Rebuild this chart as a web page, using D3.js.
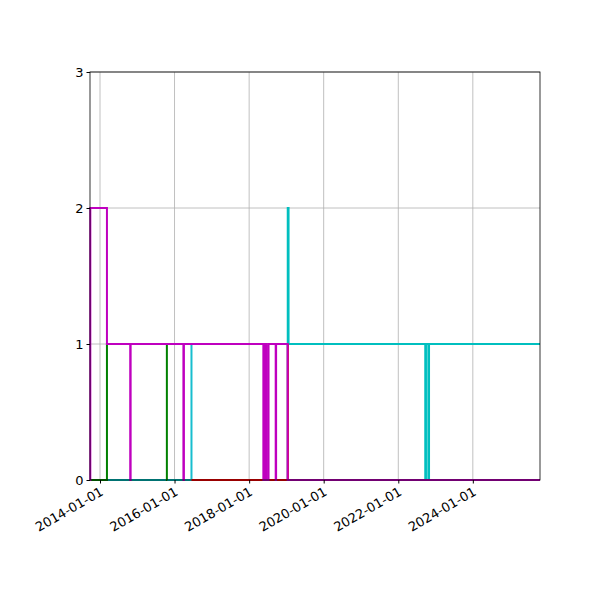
<!DOCTYPE html>
<html>
<head>
<meta charset="utf-8">
<script src="https://cdn.jsdelivr.net/npm/d3@7"></script>
<style>
body { margin: 0; background: #fff; }
text { font-family: "DejaVu Sans", sans-serif; }
</style>
</head>
<body>
<div id="chart"></div>
<script>
// step series: [date, value], drawn step-after
var cyanSeries = [["2013-09-25",0],["2019-01-14",2],["2019-01-22",1],["2022-09-22",0],["2022-09-29",1],["2022-10-22",0],["2022-10-29",1],["2025-10-20",1]];
var blueSeries = [["2014-03-12",1],["2016-06-15",0],["2016-06-18",0]];
var greenSeries = [["2013-09-25",0],["2014-03-10",1],["2015-10-18",0],["2015-10-22",0]];
var redSeries = [["2016-06-15",0],["2019-01-15",1],["2019-01-20",1]];
var magentaSeries = [["2013-09-25",0],["2013-09-28",2],["2014-03-10",1],["2014-10-24",0],["2014-10-28",1],
  ["2016-03-28",0],["2016-04-02",1],["2018-05-20",0],["2018-05-24",1],["2018-06-05",0],["2018-06-09",1],
  ["2018-06-20",0],["2018-07-10",1],["2018-09-18",0],["2018-09-22",1],["2019-01-13",0],["2025-10-20",0]];

var seriesList = [
  { data: cyanSeries, color: "#00bfbf" },
  { data: blueSeries, color: "#17becf" },
  { data: greenSeries, color: "#008000" },
  { data: redSeries, color: "#ff0000" },
  { data: magentaSeries, color: "#bf00bf" }
];
var yTicks = [0, 1, 2, 3];
var xTicks = ["2014-01-01","2016-01-01","2018-01-01","2020-01-01","2022-01-01","2024-01-01"];

var parse = d3.timeParse("%Y-%m-%d");
var margin = { top: 72, right: 60, bottom: 120, left: 90 };
var width = 600 - margin.left - margin.right,
    height = 600 - margin.top - margin.bottom;

var svg = d3.select("#chart").append("svg")
    .attr("width", 600).attr("height", 600)
  .append("g")
    .attr("transform", "translate(" + margin.left + "," + margin.top + ")");

var x = d3.scaleTime().domain([parse("2013-09-25"), parse("2025-10-20")]).range([0, width]);
var y = d3.scaleLinear().domain([0, 3]).range([height, 0]);

// grid
svg.selectAll(".vgrid").data(xTicks).enter().append("line")
  .attr("x1", function(d){ return x(parse(d)); }).attr("x2", function(d){ return x(parse(d)); })
  .attr("y1", 0).attr("y2", height).attr("stroke", "#b0b0b0").attr("stroke-width", 0.8);
svg.selectAll(".hgrid").data(yTicks).enter().append("line")
  .attr("y1", function(d){ return y(d); }).attr("y2", function(d){ return y(d); })
  .attr("x1", 0).attr("x2", width).attr("stroke", "#b0b0b0").attr("stroke-width", 0.8);

var line = d3.line()
  .x(function(d){ return x(parse(d[0])); })
  .y(function(d){ return y(d[1]); })
  .curve(d3.curveStepAfter);

seriesList.forEach(function(s){
  svg.append("path").datum(s.data)
    .attr("d", line).attr("fill", "none")
    .attr("stroke", s.color).attr("stroke-width", 2);
});

// frame
svg.append("rect").attr("width", width).attr("height", height)
  .attr("fill", "none").attr("stroke", "#000").attr("stroke-width", 0.8);

var xAxis = svg.append("g").attr("transform", "translate(0," + height + ")")
  .call(d3.axisBottom(x).tickValues(xTicks.map(parse)).tickFormat(d3.timeFormat("%Y-%m-%d")).tickSizeOuter(0).tickSize(3.5));
xAxis.selectAll("text")
  .style("font-size", "13px").attr("fill", "#000")
  .attr("text-anchor", "end").attr("dx", "-0.3em").attr("dy", "0.6em")
  .attr("transform", "rotate(-30)");

var yAxis = svg.append("g")
  .call(d3.axisLeft(y).tickValues(yTicks).tickFormat(d3.format("d")).tickSizeOuter(0).tickSize(3.5));
yAxis.selectAll("text").style("font-size", "13px").attr("fill", "#000");
svg.selectAll(".domain").remove();
</script>
</body>
</html>
